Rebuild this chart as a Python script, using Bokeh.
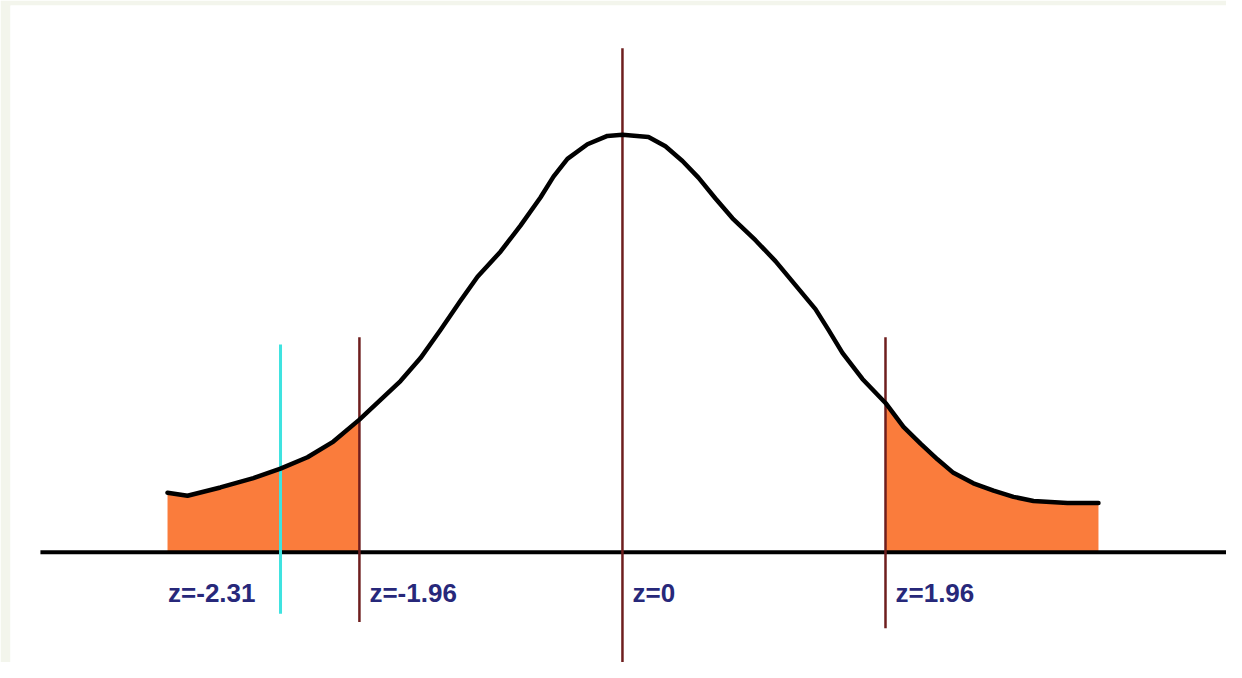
from bokeh.plotting import figure
from bokeh.models import Range1d, ColumnDataSource
from bokeh.core.properties import value
from bokeh.embed import file_html
from bokeh.resources import INLINE

# Hand-drawn bell curve (drawing units: x in z-like units, y as density-like height)
curve_x = [-3.390, -3.241, -2.996, -2.750, -2.548, -2.347, -2.154, -1.960,
           -1.803, -1.654, -1.505, -1.356, -1.207, -1.080, -0.909, -0.760,
           -0.611, -0.514, -0.410, -0.261, -0.112, 0.000, 0.194, 0.320,
           0.447, 0.566, 0.693, 0.820, 0.991, 1.140, 1.289, 1.438, 1.535,
           1.639, 1.788, 1.960, 2.094, 2.221, 2.347, 2.466, 2.615, 2.765,
           2.914, 3.063, 3.316, 3.547]
curve_y = [0.057, 0.054, 0.062, 0.071, 0.080, 0.091, 0.106, 0.127,
           0.146, 0.164, 0.186, 0.213, 0.241, 0.264, 0.288, 0.313,
           0.340, 0.360, 0.377, 0.391, 0.399, 0.400, 0.398, 0.389,
           0.375, 0.359, 0.339, 0.320, 0.299, 0.279, 0.256, 0.233, 0.213,
           0.191, 0.166, 0.143, 0.120, 0.104, 0.089, 0.076, 0.066, 0.059,
           0.053, 0.049, 0.047, 0.047]

# Critical values (brown lines) and their drawn positions
crit_pos = [-1.96, 0.0, 1.96]
crit_labels = ["z=-1.96", "z=0", "z=1.96"]
crit_top = [0.206, 0.483, 0.206]
crit_bottom = [-0.067, -0.109, -0.073]

# Test statistic (cyan line)
test_pos = -2.548
test_label = "z=-2.31"
test_top = 0.199
test_bottom = -0.059

label_y = -0.039
axis_x = [-4.337, 4.60]

W, H = 1226, 662
p = figure(width=W, height=H, output_backend="svg", toolbar_location=None,
           x_range=Range1d(-4.560, 4.501), y_range=Range1d(-0.1058, 0.5240),
           min_border_left=10, min_border_top=5, min_border_right=0,
           min_border_bottom=0)
p.axis.visible = False
p.grid.visible = False
p.outline_line_color = None
p.background_fill_color = "white"
p.border_fill_color = "#f3f5ec"

orange = "#fa7c3c"
left = [(x, y) for x, y in zip(curve_x, curve_y) if x <= -1.96]
right = [(x, y) for x, y in zip(curve_x, curve_y) if x >= 1.96]
p.varea(x=[a for a, b in left], y1=0, y2=[b for a, b in left], fill_color=orange)
p.varea(x=[a for a, b in right], y1=0, y2=[b for a, b in right], fill_color=orange)

# baseline
p.line(x=axis_x, y=[0, 0], line_color="black", line_width=4)

# brown critical lines
brown = "#6e1e1e"
p.segment(x0=crit_pos, y0=crit_bottom, x1=crit_pos, y1=crit_top,
          line_color=brown, line_width=2.5)

# cyan test line
p.segment(x0=[test_pos], y0=[test_bottom], x1=[test_pos], y1=[test_top],
          line_color="#3fe3e0", line_width=3)

# curve
p.line(x=curve_x, y=curve_y, line_color="black", line_width=4.5,
       line_join="round", line_cap="round")

navy = "#27287a"
src = ColumnDataSource(dict(x=crit_pos, y=[label_y] * 3, t=crit_labels))
p.text(x="x", y="y", text="t", source=src, x_offset=10, text_align="left",
       text_baseline="middle", text_font=value("Liberation Sans"),
       text_font_style="bold", text_font_size="26px", text_color=navy)
p.text(x=[test_pos], y=[label_y], text=[test_label], x_offset=-25, text_align="right",
       text_baseline="middle", text_font=value("Liberation Sans"),
       text_font_style="bold", text_font_size="26px", text_color=navy)

open("out.html", "w").write(file_html(p, INLINE))
